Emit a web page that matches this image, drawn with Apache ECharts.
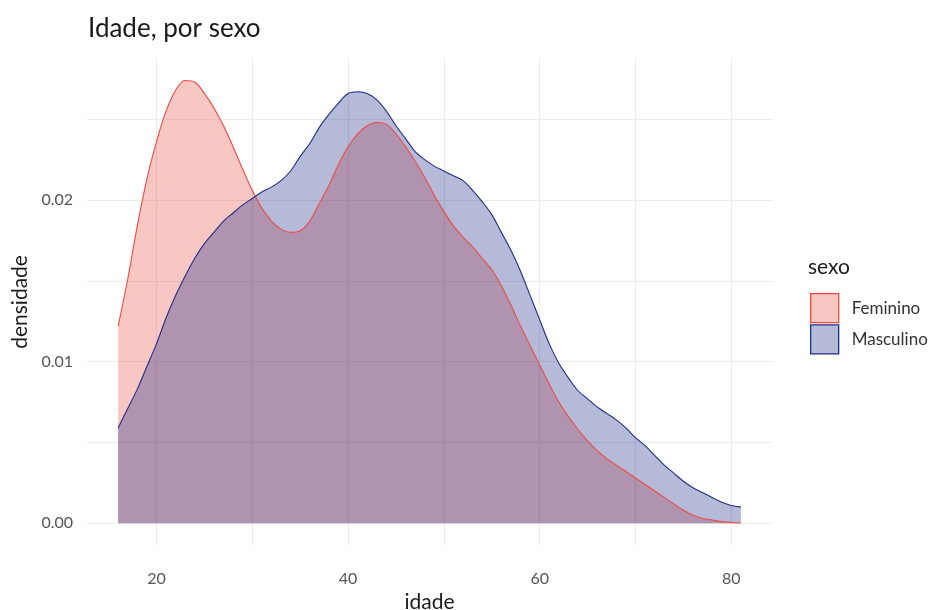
<!DOCTYPE html>
<html>
<head>
<meta charset="utf-8">
<title>Idade, por sexo</title>
<script src="https://cdn.jsdelivr.net/npm/echarts@6/dist/echarts.min.js"></script>
<style>
  html, body { margin: 0; padding: 0; background: #fff; }
  #chart { width: 952px; height: 610px; }
</style>
</head>
<body>
<div id="chart"></div>
<script>
  // idades (eixo x) e densidades
  const idades = [16, 17, 18, 19, 20, 21, 22, 23, 24, 25, 26, 27, 28, 29, 30, 31, 32, 33, 34, 35,
    36, 37, 38, 39, 40, 41, 42, 43, 44, 45, 46, 47, 48, 49, 50, 51, 52, 53, 54, 55, 56, 57, 58,
    59, 60, 61, 62, 63, 64, 65, 66, 67, 68, 69, 70, 71, 72, 73, 74, 75, 76, 77, 78, 79, 80, 81];

  const feminino = [0.0122, 0.0151, 0.0184, 0.0213, 0.0236, 0.0255, 0.0268, 0.0274, 0.0273, 0.0266,
    0.0257, 0.0246, 0.0233, 0.0219, 0.0206, 0.0195, 0.0187, 0.0182, 0.0180, 0.0181,
    0.0187, 0.0198, 0.0209, 0.0222, 0.0233, 0.0241, 0.0246, 0.0248, 0.0247, 0.0241,
    0.0233, 0.0224, 0.0214, 0.0203, 0.0193, 0.0184, 0.0177, 0.0171, 0.0164, 0.0157,
    0.0147, 0.0135, 0.0122, 0.0110, 0.0098, 0.0086, 0.0075, 0.0066, 0.0058, 0.0051,
    0.0045, 0.0040, 0.0036, 0.0032, 0.0028, 0.0024, 0.0020, 0.0016, 0.0012, 0.0008,
    0.0005, 0.0003, 0.0002, 0.0001, 0.00005, 0.00002];

  const masculino = [0.0059, 0.0071, 0.0083, 0.0097, 0.0111, 0.0127, 0.0141, 0.0153, 0.0164, 0.0173,
    0.0180, 0.0187, 0.0192, 0.0197, 0.0201, 0.0205, 0.0208, 0.0212, 0.0218, 0.0227,
    0.0235, 0.0245, 0.0253, 0.0260, 0.0266, 0.0267, 0.0266, 0.0262, 0.0255, 0.0246,
    0.0238, 0.0230, 0.0225, 0.0221, 0.0218, 0.0215, 0.0212, 0.0206, 0.0199, 0.0191,
    0.0180, 0.0169, 0.0156, 0.0141, 0.0126, 0.0111, 0.0099, 0.0090, 0.0082, 0.0077,
    0.0072, 0.0068, 0.0064, 0.0059, 0.0053, 0.0048, 0.0042, 0.0036, 0.0031, 0.0026,
    0.0022, 0.0019, 0.0016, 0.0013, 0.0011, 0.0010];

  const grupos = ['Feminino', 'Masculino'];

  const fonte = 'Lato, "Open Sans", sans-serif';
  const corLinha = { Feminino: '#EE4B40', Masculino: '#1F2D86' };
  const corArea = { Feminino: 'rgba(235,68,55,0.3)', Masculino: 'rgba(8,28,125,0.3)' };

  const pares = (ys) => idades.map((x, i) => [x, ys[i]]);
  const valores = { Feminino: feminino, Masculino: masculino };

  let chart = echarts.init(document.getElementById('chart'));

  chart.setOption({
    animation: false,
    title: [
      {
        text: 'Idade, por sexo',
        left: 88, top: 16, padding: 0,
        textStyle: { fontFamily: fonte, fontSize: 26, fontWeight: 'normal', color: '#1a1a1a' }
      },
      {
        text: 'sexo',
        left: 808, top: 257, padding: 0,
        textStyle: { fontFamily: fonte, fontSize: 21, fontWeight: 'normal', color: '#1a1a1a' }
      }
    ],
    legend: {
      orient: 'vertical',
      left: 810, top: 293, padding: 0,
      itemWidth: 28, itemHeight: 29, itemGap: 1,
      textStyle: { fontFamily: fonte, fontSize: 17, color: '#333', padding: [0, 0, 0, 8] },
      data: grupos.map(g => ({
        name: g,
        icon: 'rect',
        itemStyle: { color: corArea[g], borderColor: corLinha[g], borderWidth: 1.3 }
      }))
    },
    grid: { left: 87, right: 180, top: 58.5, bottom: 64.6, outerBoundsMode: 'none' },
    xAxis: {
      type: 'value',
      min: 12.75, max: 84.25,
      splitNumber: 7,
      name: 'idade',
      nameLocation: 'middle',
      nameGap: 40,
      nameTextStyle: { fontFamily: fonte, fontSize: 21, color: '#1a1a1a' },
      axisLine: { show: false },
      axisTick: { show: false },
      axisLabel: {
        margin: 25,
        fontFamily: fonte, fontSize: 16, color: '#555',
        showMinLabel: false, showMaxLabel: false,
        formatter: v => (v % 20 === 0 ? String(v) : '')
      },
      splitLine: { show: true, showMinLine: false, showMaxLine: false, lineStyle: { color: '#ebebeb', width: 1.2 } }
    },
    yAxis: {
      type: 'value',
      min: -0.00137, max: 0.02876,
      name: 'densidade',
      nameLocation: 'middle',
      nameGap: 51,
      nameTextStyle: { fontFamily: fonte, fontSize: 21, color: '#1a1a1a' },
      axisLine: { show: false },
      axisTick: { show: false },
      axisLabel: {
        margin: 14,
        fontFamily: fonte, fontSize: 16, color: '#555',
        showMinLabel: false, showMaxLabel: false,
        formatter: v => (Math.round(v * 1000) % 10 === 0 ? Math.abs(v).toFixed(2) : '')
      },
      splitLine: { show: true, showMinLine: false, showMaxLine: false, lineStyle: { color: '#ebebeb', width: 1.2 } }
    },
    series: grupos.map(g => ({
      name: g,
      type: 'line',
      data: pares(valores[g]),
      smooth: 0.35,
      showSymbol: false,
      lineStyle: { color: corLinha[g], width: 1.1 },
      itemStyle: { color: corLinha[g] },
      areaStyle: { color: corArea[g], opacity: 1, origin: 0 }
    }))
  });
</script>
</body>
</html>
